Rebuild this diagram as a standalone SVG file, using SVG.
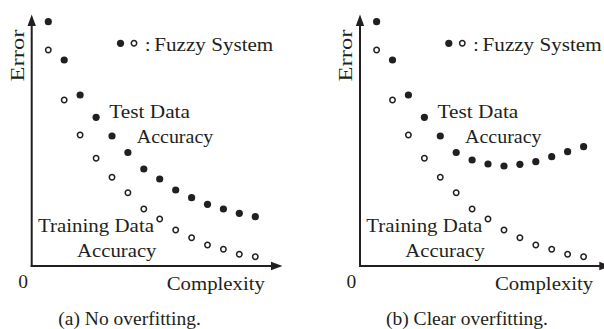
<svg xmlns="http://www.w3.org/2000/svg" xmlns:xlink="http://www.w3.org/1999/xlink" width="604" height="329" viewBox="0 0 604 329">
  <style>
    text { font-family: "Liberation Serif", "Times New Roman", serif; font-size: 19.5px; fill: #231f20; }
    .axis { stroke: #231f20; stroke-width: 2; fill: none; }
    .head { fill: #231f20; }
    .f { fill: #231f20; }
    .o { fill: #fff; stroke: #231f20; stroke-width: 1.5; }
  </style>
  <defs>
    <circle id="fd" class="f" r="3.6"/>
    <circle id="od" class="o" r="2.7"/>
  </defs>
  <rect width="604" height="329" fill="#fff"/>

  <!-- Panel (a) -->
  <g id="panel-a">
    <g id="axes-a">
      <line class="axis" x1="31.7" y1="24" x2="31.7" y2="266.7"/>
      <line class="axis" x1="30.7" y1="266" x2="273" y2="266"/>
      <polygon class="head" points="31.7,14.5 27.5,26 35.9,26"/>
      <polygon class="head" points="282.5,266 271,261.8 271,270.2"/>
    </g>
    <g id="test-a">
      <use xlink:href="#fd" x="48.3" y="21.7"/>
      <use xlink:href="#fd" x="64.2" y="60"/>
      <use xlink:href="#fd" x="80.1" y="95"/>
      <use xlink:href="#fd" x="96.1" y="117.3"/>
      <use xlink:href="#fd" x="112" y="136"/>
      <use xlink:href="#fd" x="127.9" y="152.5"/>
      <use xlink:href="#fd" x="143.8" y="169"/>
      <use xlink:href="#fd" x="159.7" y="179"/>
      <use xlink:href="#fd" x="175.7" y="190"/>
      <use xlink:href="#fd" x="191.6" y="197.7"/>
      <use xlink:href="#fd" x="207.5" y="204.3"/>
      <use xlink:href="#fd" x="223.4" y="209"/>
      <use xlink:href="#fd" x="239.3" y="213.3"/>
      <use xlink:href="#fd" x="255.3" y="216.7"/>
    </g>
    <g id="train-a">
      <use xlink:href="#od" x="48.3" y="50"/>
      <use xlink:href="#od" x="64.2" y="100"/>
      <use xlink:href="#od" x="80.1" y="135"/>
      <use xlink:href="#od" x="96.1" y="158.3"/>
      <use xlink:href="#od" x="112" y="177.3"/>
      <use xlink:href="#od" x="127.9" y="192.7"/>
      <use xlink:href="#od" x="143.8" y="209"/>
      <use xlink:href="#od" x="159.7" y="219"/>
      <use xlink:href="#od" x="175.7" y="230"/>
      <use xlink:href="#od" x="191.6" y="237.7"/>
      <use xlink:href="#od" x="207.5" y="245"/>
      <use xlink:href="#od" x="223.4" y="249.3"/>
      <use xlink:href="#od" x="239.3" y="254.3"/>
      <use xlink:href="#od" x="255.3" y="256.7"/>
    </g>
    <g id="legend-a">
      <use xlink:href="#fd" x="120.5" y="43.3"/>
      <use xlink:href="#od" x="134" y="43.3"/>
      <text x="145" y="51">:</text>
      <text x="154.3" y="51" textLength="119" lengthAdjust="spacingAndGlyphs">Fuzzy System</text>
    </g>
    <g id="labels-a">
      <text transform="translate(23.6,81.5) rotate(-90)" textLength="52" lengthAdjust="spacingAndGlyphs">Error</text>
      <text x="109.3" y="118.3" textLength="80.7" lengthAdjust="spacingAndGlyphs">Test Data</text>
      <text x="136.7" y="142.5" textLength="76.6" lengthAdjust="spacingAndGlyphs">Accuracy</text>
      <text x="38" y="231.7" textLength="116" lengthAdjust="spacingAndGlyphs">Training Data</text>
      <text x="77" y="256.5" textLength="79.5" lengthAdjust="spacingAndGlyphs">Accuracy</text>
      <text x="18.3" y="288">0</text>
      <text x="166.7" y="290" textLength="98.3" lengthAdjust="spacingAndGlyphs">Complexity</text>
      <text x="58.3" y="325" textLength="142.5" lengthAdjust="spacingAndGlyphs">(a) No overfitting.</text>
    </g>
  </g>

  <!-- Panel (b) -->
  <g id="panel-b" transform="translate(328.3,0)">
    <g id="axes-b">
      <line class="axis" x1="31.7" y1="24" x2="31.7" y2="266.7"/>
      <line class="axis" x1="30.7" y1="266" x2="273" y2="266"/>
      <polygon class="head" points="31.7,14.5 27.5,26 35.9,26"/>
      <polygon class="head" points="282.5,266 271,261.8 271,270.2"/>
    </g>
    <g id="test-b">
      <use xlink:href="#fd" x="48.3" y="21.7"/>
      <use xlink:href="#fd" x="64.2" y="60"/>
      <use xlink:href="#fd" x="80.1" y="95"/>
      <use xlink:href="#fd" x="96.1" y="117.3"/>
      <use xlink:href="#fd" x="112" y="136"/>
      <use xlink:href="#fd" x="127.9" y="152.5"/>
      <use xlink:href="#fd" x="143.8" y="160"/>
      <use xlink:href="#fd" x="159.7" y="164"/>
      <use xlink:href="#fd" x="175.7" y="166"/>
      <use xlink:href="#fd" x="191.6" y="164.3"/>
      <use xlink:href="#fd" x="207.5" y="161.7"/>
      <use xlink:href="#fd" x="223.4" y="156.7"/>
      <use xlink:href="#fd" x="239.3" y="151.7"/>
      <use xlink:href="#fd" x="255.3" y="146.7"/>
    </g>
    <g id="train-b">
      <use xlink:href="#od" x="48.3" y="50"/>
      <use xlink:href="#od" x="64.2" y="100"/>
      <use xlink:href="#od" x="80.1" y="135"/>
      <use xlink:href="#od" x="96.1" y="158.3"/>
      <use xlink:href="#od" x="112" y="177.3"/>
      <use xlink:href="#od" x="127.9" y="192.7"/>
      <use xlink:href="#od" x="143.8" y="209"/>
      <use xlink:href="#od" x="159.7" y="219"/>
      <use xlink:href="#od" x="175.7" y="230"/>
      <use xlink:href="#od" x="191.6" y="237.7"/>
      <use xlink:href="#od" x="207.5" y="245"/>
      <use xlink:href="#od" x="223.4" y="249.3"/>
      <use xlink:href="#od" x="239.3" y="254.3"/>
      <use xlink:href="#od" x="255.3" y="256.7"/>
    </g>
    <g id="legend-b">
      <use xlink:href="#fd" x="120.5" y="43.3"/>
      <use xlink:href="#od" x="134" y="43.3"/>
      <text x="145" y="51">:</text>
      <text x="154.3" y="51" textLength="119" lengthAdjust="spacingAndGlyphs">Fuzzy System</text>
    </g>
    <g id="labels-b">
      <text transform="translate(23.6,81.5) rotate(-90)" textLength="52" lengthAdjust="spacingAndGlyphs">Error</text>
      <text x="109.3" y="118.3" textLength="80.7" lengthAdjust="spacingAndGlyphs">Test Data</text>
      <text x="136.7" y="142.5" textLength="76.6" lengthAdjust="spacingAndGlyphs">Accuracy</text>
      <text x="38" y="231.7" textLength="116" lengthAdjust="spacingAndGlyphs">Training Data</text>
      <text x="77" y="256.5" textLength="79.5" lengthAdjust="spacingAndGlyphs">Accuracy</text>
      <text x="18.3" y="288">0</text>
      <text x="166.7" y="290" textLength="98.3" lengthAdjust="spacingAndGlyphs">Complexity</text>
      <text x="57.7" y="325" textLength="162" lengthAdjust="spacingAndGlyphs">(b) Clear overfitting.</text>
    </g>
  </g>
</svg>
